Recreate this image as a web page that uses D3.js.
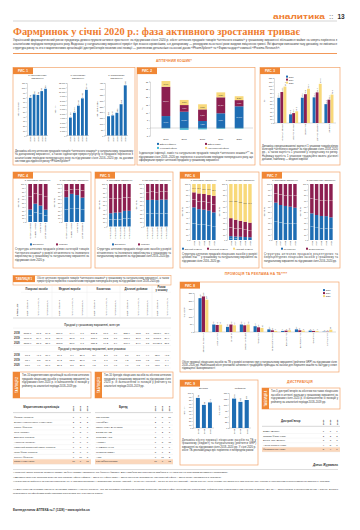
<!DOCTYPE html>
<html lang="uk"><head><meta charset="utf-8">
<script src="https://d3js.org/d3.v7.min.js"></script>
<style>
html,body{margin:0;padding:0;background:#fff;}
svg{display:block;font-family:'Liberation Sans',Arial,sans-serif;}
</style></head><body>
<svg id="page" width="360" height="530"></svg>
<script>
// ================= DATA =================
const pageSection = "аналитика";
const pageNumber = "13";
const headline = "Фармринок у січні 2020 р.: фаза активного зростання триває";
const introText = "Український фармацевтичний ринок продовжує демонструвати активне зростання: за підсумками січня 2020 р. обсяг аптечних продажів товарів «аптечного кошика» у грошовому вираженні збільшився майже на чверть порівняно з аналогічним періодом попереднього року. Водночас у натуральному вираженні приріст був значно скромнішим, а в доларовому — рекордним за останні роки завдяки зміцненню гривні. Які фактори визначили таку динаміку, як змінилася структура ринку та хто з маркетингових організацій і дистриб'юторів посилив свої позиції — розглянемо детальніше на основі даних «PharmXplorer» та «Фармстандарт» компанії «Proxima Research».";

const years5 = ["2016","2017","2018","2019","2020"];
const years3 = ["2018","2019","2020"];
const monthYears5 = ["Січень 2016","Січень 2017","Січень 2018","Січень 2019","Січень 2020"];

// Рис. 1
const fig1PanelTitles = [["У натуральному","вираженні"],["У грошовому","вираженні"],["У доларовому","вираженні"]];
const fig1AxisTitles = ["Млн упаковок","Млн грн","Млн дол. США"];
const fig1Packs = [79, 86, 85, 93, 98];
const fig1Uah = [4100, 5200, 6819, 8483, 10439];
const fig1Usd = [165, 172, 195, 268, 430];
const fig1Caption = "Динаміка обсягу аптечних продажів товарів «аптечного кошика» у натуральному, грошовому та доларовому вираженні, а також індикатори приросту/убутку їх продажів порівняно з аналогічним періодом попереднього року за підсумками січня 2016–2020 рр. за даними системи дослідження ринку «PharmXplorer»";

// Рис. 2
const fig2Legend = ["Ефект інфляції","Ефект замін","Курсовий ефект","Натуральний ефект"];
const fig2Inflation = [7.7, 10.5, 4.5, 9.5, 14.0];
const fig2Substitution = [18.9, 4.3, 7.5, 10.3, 4.0];
const fig2Currency = [-0.3, -1.2, -0.9, -0.5, -0.4];
const fig2Natural = [3.7, 3.3, 3.3, 3.2, 2.5];
const fig2Ticks = [-5, 0, 5, 10, 15, 20, 25, 30];
const fig2Caption = "Індикатори інфляції, замін та натуральних продажів товарів «аптечного кошика»** за підсумками січня 2016–2020 рр. порівняно з аналогічним періодом попереднього року, що сформували приріст аптечних продажів у грошовому вираженні";

// Рис. 3
const fig3Categories = ["Лікарські засоби","Медичні вироби","Косметика","Дієтичні добавки","Загалом"];
const fig3Y2018 = [67.2, 23.1, 67.5, 68.4, 50.3];
const fig3Y2019 = [82.6, 26.4, 76.8, 81.7, 62.2];
const fig3Y2020 = [97.1, 31.2, 91.3, 104.5, 75.8];
const fig3Caption = "Динаміка середньозваженої вартості 1 упаковки товарів різних категорій «аптечного кошика» за підсумками січня 2018–2020 рр., а також вартість 1 упаковки у середньому по ринку. Найвищу вартість 1 упаковки традиційно мають дієтичні добавки, найнижчу — медичні вироби";

// Рис. 4
const originLegend = ["Вітчизняні","Іноземні"];
const fig4Categories = ["Лікарські засоби","Медичні вироби","Косметика","Дієтичні добавки"];
const fig4DomesticUah = [33.0, 48.2, 43.1, 32.4];
const fig4ForeignUah = [67.0, 51.8, 56.9, 67.6];
const fig4DomesticPacks = [65.3, 74.1, 70.8, 64.2];
const fig4ForeignPacks = [34.7, 25.9, 29.2, 35.8];
const fig4Caption = "Структура аптечних продажів різних категорій товарів «аптечного кошика» у розрізі вітчизняного та іноземного виробництва у грошовому та натуральному вираженні за підсумками січня 2020 р.";

// Рис. 5
const fig5DomesticUah = [31.2, 32.6, 33.1, 36.8, 37.0];
const fig5ForeignUah = [68.8, 67.4, 66.9, 63.2, 63.0];
const fig5DomesticPacks = [62.4, 62.9, 62.1, 63.5, 63.2];
const fig5ForeignPacks = [37.6, 37.1, 37.9, 36.5, 36.8];
const fig5Caption = "Структура аптечних продажів лікарських засобів у розрізі вітчизняного та іноземного виробництва у грошовому та натуральному вираженні за підсумками січня 2016–2020 рр.";

// Рис. 6
const fig6Legend = ["Високий сегмент","Середній сегмент","Низький сегмент"];
const fig6HighUah = [58.3, 55.1, 54.2, 52.4, 49.3];
const fig6MidUah = [26.8, 28.0, 28.1, 27.9, 29.6];
const fig6LowUah = [14.9, 16.9, 17.7, 19.7, 21.1];
const fig6HighPacks = [6.9, 6.2, 5.8, 5.3, 4.9];
const fig6MidPacks = [32.1, 30.0, 28.4, 27.1, 26.0];
const fig6LowPacks = [61.0, 63.8, 65.8, 67.6, 69.1];
const fig6Caption = "Структура аптечних продажів лікарських засобів у розрізі цінових ніш*** у грошовому та натуральному вираженні за підсумками січня 2016–2020 рр.";

// Рис. 7
const fig7Legend = ["Рецептурні","Безрецептурні"];
const fig7RxUah = [66.7, 62.5, 60.8, 59.5, 57.7];
const fig7OtcUah = [33.3, 37.5, 39.2, 40.5, 42.3];
const fig7RxPacks = [47.6, 44.6, 42.9, 42.6, 40.5];
const fig7OtcPacks = [52.4, 55.4, 57.1, 57.4, 59.5];
const fig7Caption = "Структура аптечних продажів рецептурних та безрецептурних лікарських засобів у грошовому та натуральному вираженні за підсумками січня 2016–2020 рр.";

const panelTitles = ["У грошовому вираженні","У натуральному вираженні"];

// Рис. 8
const fig8Categories = ["Засоби від застуди","Анальгетики","Вітаміни","Засоби для ШКТ","Пробіотики","Гепатопротектори","Кардіологічні","Дерматологічні","Седативні","Антисептики"];
const fig8Y2018 = [217, 48, 33, 48, 37, 17, 7, 17, 9, 2];
const fig8Y2019 = [228, 45, 48, 43, 30, 11, 9, 11, 7, 2];
const fig8Y2020 = [207, 47, 43, 48, 26, 7, 11, 9, 7, 15];
const fig8Caption = "Обсяг промоції лікарських засобів на ТБ у розрізі основних груп у натуральному вираженні (рейтинги GRP) за підсумками січня 2018–2020 рр. Найбільший обсяг рекламної активності традиційно припадає на засоби для лікування кашлю та застуди у сезон підвищеної захворюваності";

// Рис. 9
const fig9Titles = ["Бюджет","Рейтинги"];
const fig9AxisTitles = ["Млн грн","Тис. GRP"];
const fig9Budget = [86, 66, 73];
const fig9Grp = [126, 112, 120];
const fig9Caption = "Динаміка обсягу промоції лікарських засобів на ТБ у грошовому (бюджет) та натуральному (рейтинги GRP) вираженні за підсумками січня 2018–2020 рр. У січні 2020 р. обсяг ТБ-реклами дещо зріс порівняно з попереднім роком";

// Таблиця 1
const t1Title = "Обсяг аптечних продажів товарів «аптечного кошика» у грошовому та натуральному вираженні, а також приріст/убуток порівняно з аналогічним періодом попереднього року за підсумками січня 2018–2020 рр.";
const t1Groups = ["Лікарські засоби","Медичні вироби","Косметика","Дієтичні добавки","Разом у кошику"];
const t1SubCols = ["Обсяг продажів","Приріст/убуток, %","Питома вага, %"];
const t1Sections = ["Продажі у грошовому вираженні, млн грн","Продажі у натуральному вираженні, млн упаковок"];
const t1Years = ["2018","2019","2020"];
const t1UahRows = [
 ["5783,1","17,5","84,8","517,7","14,4","7,6","265,2","10,7","3,9","252,9","15,5","3,7","6818,9","16,9"],
 ["7196,8","24,4","84,8","654,1","26,3","7,7","313,6","18,2","3,7","318,6","26,0","3,8","8483,1","24,4"],
 ["8873,9","23,3","85,0","808,8","23,7","7,7","358,2","14,2","3,4","397,9","24,9","3,8","10438,8","23,1"]];
const t1PackRows = [
 ["60,3","–1,7","70,9","17,1","0,4","20,1","3,9","2,7","4,6","3,7","5,6","4,4","85,0","–0,8"],
 ["65,4","8,5","70,3","19,2","12,3","20,6","4,2","7,7","4,5","4,2","13,5","4,5","93,0","9,4"],
 ["68,6","4,9","70,0","20,3","5,7","20,7","4,5","7,1","4,6","4,6","9,5","4,7","98,0","5,4"]];

// Таблиці 2–4
const rankYears = ["2020","2019","2018"];
const t2Text = "Топ-10 маркетингових організацій за обсягом аптечних продажів лікарських засобів у грошовому вираженні за підсумками січня 2020 р. із зазначенням їх позицій у рейтингу за аналогічні періоди 2018–2019 рр.";
const t2Names = ["Фармак (Україна)","Берлін-Хемі/Менаріні (Німеччина)","Sanofi (Франція)","Teva (Ізраїль)","Дарниця (Україна)","Артеріум (Україна)","Київський вітамінний завод (Україна)","Юрія-Фарм (Україна)","Servier (Франція)","Stada (Німеччина)"];
const t2R2020 = [1,2,3,4,5,6,7,8,9,10];
const t2R2019 = [1,2,3,5,4,6,8,9,10,7];
const t2R2018 = [1,2,3,4,5,6,7,9,8,11];
const t3Text = "Топ-10 брендів лікарських засобів за обсягом аптечних продажів у грошовому вираженні за підсумками січня 2020 р. із зазначенням їх позицій у рейтингу за аналогічні періоди 2018–2019 рр.";
const t3Names = ["СИНУПРЕТ","НУРОФЕН","ЦИТРАМОН-ДАРНИЦЯ","ЕССЕНЦІАЛЕ","ТРОМБО АСС","АМІЗОН","КАРДІОМАГНІЛ","ГРОПРИНОЗИН","АЦЦ","РИНОФЛУІМУЦИЛ"];
const t3R2020 = [1,2,3,4,5,6,7,8,9,10];
const t3R2019 = [5,1,6,2,4,8,3,7,11,9];
const t3R2018 = [10,1,9,3,4,48,6,2,2,12];
const t4Text = "Топ-5 дистриб'юторів за обсягом поставок лікарських засобів в аптечні заклади у грошовому вираженні за підсумками січня 2020 р. із зазначенням їх позицій у рейтингу за аналогічні періоди 2018–2019 рр.";
const t4Names = ["БаДМ (Дніпро)","Оптима-Фарм (Київ)","Вента. Лтд (Дніпро)","Альба Україна (Київ)","Фармпланета (Київ)"];
const t4R2020 = [1,2,3,4,5];
const t4R2019 = [1,2,3,5,4];
const t4R2018 = [1,2,3,7,6];

const sectionTitles = ["АПТЕЧНИЙ КОШИК*","ПРОМОЦІЯ ТА РЕКЛАМА НА ТБ****","ДИСТРИБУЦІЯ"];
const author = "Денис Журавель";
const footnotes = [
 "*Аптечний кошик включає лікарські засоби, медичні вироби, косметику та дієтичні добавки. Дані наведено без урахування продажів в АР Крим та на тимчасово окупованих територіях.",
 "**Динаміка аптечних продажів включає три складові: ефект інфляції – зміна цін; ефект замін – зміна структури споживання; натуральний ефект – зміна обсягу споживання в упаковках.",
 "***Ранжування здійснено за рівнем роздрібних цін 1 упаковки препарату у відповідному періоді: низький – до 50 грн; середній – від 50 до 100 грн; високий – понад 100 грн. Межі цінових ніш визначено для кожного року окремо з урахуванням середньозваженої вартості 1 упаковки.",
 "****Дані щодо ТБ-реклами наведено за даними компанії «Нільсен Україна». Під ТБ-рекламою розуміється реклама лікарських засобів в ефірі національних телеканалів. Рейтинги GRP розраховано для цільової аудиторії «Всі 18+», міста України з населенням 50 тис. і більше. Бюджет розраховано за офіційними прайс-листами телеканалів без урахування знижок."
];
const footer = "Еженедельник АПТЕКА №7 (1228) • www.apteka.ua";

// ================= DRAWING =================
const svg = d3.select("#page");
const C = {orange:"#ef7d2f", border:"#f2a46a", tag:"#f08735", blue:"#1e6db3", crimson:"#8c1f50",
  yellow:"#f8d97a", teal:"#46b9d6", text:"#333", axis:"#8a8a8a", light:"#e3e3e3", hl:"#fbd7bb"};
const loc = d3.formatLocale({decimal:",", thousands:" ", grouping:[3], currency:["",""]});
const f0 = loc.format(",.0f"), f1 = loc.format(".1f");

svg.append("rect").attr("width",360).attr("height",530).attr("fill","#fff");

function txt(g, x, y, s, o={}) {
  const t = g.append("text").text(s).attr("font-size", o.fs||2.6).attr("fill", o.fill||C.text);
  if (o.rot) t.attr("transform",`translate(${x},${y}) rotate(${o.rot})`); else t.attr("x",x).attr("y",y);
  if (o.anchor) t.attr("text-anchor",o.anchor);
  if (o.weight) t.attr("font-weight",o.weight);
  if (o.style) t.attr("font-style",o.style);
  if (o.family) t.attr("font-family",o.family);
  if (o.len) t.attr("textLength",o.len).attr("lengthAdjust","spacingAndGlyphs");
  if (o.ls) t.attr("letter-spacing",o.ls);
  return t;
}
function para(g, text, x, y, w, lh, fs, o={}) {
  const probe = g.append("text").attr("font-size",fs).attr("font-style",o.style||null).attr("font-weight",o.weight||null);
  const words = text.split(/\s+/); const lines=[]; let cur=[];
  words.forEach(wd=>{ probe.text([...cur,wd].join(" "));
    if (cur.length && probe.node().getComputedTextLength()>w){ lines.push(cur.join(" ")); cur=[wd]; } else cur.push(wd); });
  if (cur.length) lines.push(cur.join(" "));
  probe.remove();
  lines.forEach((l,i)=>{ const t = txt(g, x, y+i*lh, l, {fs, style:o.style, weight:o.weight, fill:o.fill});
    if (i<lines.length-1) t.attr("textLength",w).attr("lengthAdjust","spacing"); });
  return lines.length;
}
function figBox(x,y,w,h,label){
  svg.append("rect").attr("x",x).attr("y",y).attr("width",w).attr("height",h).attr("fill","#fff").attr("stroke",C.border).attr("stroke-width",0.7);
  svg.append("rect").attr("x",x).attr("y",y).attr("width",20).attr("height",6.6).attr("fill",C.tag);
  txt(svg, x+10, y+4.7, label, {fs:3.1, fill:"#fff", weight:"bold", anchor:"middle"});
}
function tabBox(x,y,w,h,label,text){
  svg.append("rect").attr("x",x).attr("y",y).attr("width",w).attr("height",h).attr("fill","#fff").attr("stroke",C.border).attr("stroke-width",0.7);
  svg.append("rect").attr("x",x).attr("y",y).attr("width",7).attr("height",h).attr("fill",C.tag);
  txt(svg, x+4.6, y+h/2, label, {fs:2.8, fill:"#fff", weight:"bold", anchor:"middle", rot:-90});
  para(svg, text, x+9, y+4.2, w-11, 3.6, 2.6);
}
function styleAxis(a, fs){
  a.attr("font-size",fs).attr("font-family",null);
  a.select(".domain").attr("stroke",C.axis).attr("stroke-width",0.3);
  a.selectAll(".tick line").attr("stroke",C.axis).attr("stroke-width",0.3);
  a.selectAll(".tick text").attr("fill",C.text);
}
function yAxis(g, x, y, ticks, fmt, fs=2.1){
  const a = g.append("g").attr("transform",`translate(${x},0)`)
    .call(d3.axisLeft(y).tickValues(ticks).tickSize(1).tickPadding(0.7).tickFormat(fmt));
  styleAxis(a, fs); return a;
}
function legend(g, items, colors, xs, y, fs=2.3){
  items.forEach((it,i)=>{ g.append("rect").attr("x",xs[i]).attr("y",y-1.9).attr("width",2).attr("height",2).attr("fill",colors[i]);
    txt(g, xs[i]+2.7, y, it, {fs}); });
}
function xLabels(g, x, cats, yBase, fs){
  g.append("g").selectAll("text").data(cats).join("text")
    .attr("transform",d=>`translate(${x(d)+x.bandwidth()/2+fs*0.35},${yBase}) rotate(-90)`)
    .attr("text-anchor","end").attr("font-size",fs).attr("fill",C.text).text(d=>d);
}
function simpleBars(o){
  const g = svg.append("g");
  const x = d3.scaleBand().domain(o.cats).range([o.x0+0.8,o.x1]).padding(o.pad ?? 0.3);
  const y = d3.scaleLinear().domain([0,o.max]).range([o.y1,o.y0]);
  yAxis(g, o.x0, y, d3.range(0,o.max+1e-9,o.step), f0, o.tfs||2.1);
  g.append("line").attr("x1",o.x0).attr("x2",o.x1).attr("y1",o.y1).attr("y2",o.y1).attr("stroke",C.axis).attr("stroke-width",0.3);
  g.append("g").selectAll("rect").data(o.values).join("rect")
    .attr("x",(d,i)=>x(o.cats[i])).attr("y",d=>y(d)).attr("width",x.bandwidth()).attr("height",d=>o.y1-y(d)).attr("fill",C.blue);
  g.append("g").selectAll("text").data(o.values).join("text")
    .attr("transform",(d,i)=>`translate(${x(o.cats[i])+x.bandwidth()/2+0.7},${y(d)-0.7}) rotate(-90)`)
    .attr("font-size",o.vfs||2.1).attr("fill",C.text).text(d=>f0(d));
  xLabels(g, x, o.cats, o.y1+0.9, o.xfs||2.3);
  o.title.forEach((t,i)=>txt(g,(o.x0+o.x1)/2,o.ty+i*3,t,{fs:2.5,anchor:"middle"}));
  txt(g, o.ytx, (o.y0+o.y1)/2, o.yTitle, {fs:2.3, anchor:"middle", rot:-90});
}
function stackPanel(o){
  const g = svg.append("g");
  const keys = o.series.map((s,k)=>"k"+k);
  const rows = o.cats.map((c,i)=>{ const r={cat:c}; o.series.forEach((s,k)=>r["k"+k]=s[i]); return r; });
  const st = d3.stack().keys(keys)(rows);
  const x = d3.scaleBand().domain(o.cats).range([o.x0+0.8,o.x1]).padding(o.pad ?? 0.28);
  const y = d3.scaleLinear().domain([0,100]).range([o.y1,o.y0]);
  yAxis(g, o.x0, y, d3.range(0,101,10), d=>d, 2.0);
  st.forEach((layer,k)=>{
    g.append("g").selectAll("rect").data(layer).join("rect")
      .attr("x",d=>x(d.data.cat)).attr("y",d=>y(d[1])).attr("width",x.bandwidth())
      .attr("height",d=>y(d[0])-y(d[1])).attr("fill",o.colors[k]);
    g.append("g").selectAll("text").data(layer.filter(d=>y(d[0])-y(d[1])>3.4)).join("text")
      .attr("x",d=>x(d.data.cat)+x.bandwidth()/2).attr("y",d=>(y(d[0])+y(d[1]))/2+0.6)
      .attr("text-anchor","middle").attr("font-size",o.vfs||1.7)
      .attr("fill",o.labelColors?o.labelColors[k]:"#fff").text(d=>f1(d.data["k"+k]));
  });
  xLabels(g, x, o.cats, o.y1+0.8, o.xfs||2.1);
  txt(g,(o.x0+o.x1)/2,o.ty,o.title,{fs:2.3,anchor:"middle"});
  txt(g,o.ytx,(o.y0+o.y1)/2,"Частка, %",{fs:2.1,anchor:"middle",rot:-90});
}
function groupedBars(o){
  const g = svg.append("g");
  const x0 = d3.scaleBand().domain(o.cats).range([o.x0+0.8,o.x1]).padding(o.pad ?? 0.2);
  const x1 = d3.scaleBand().domain(years3).range([0,x0.bandwidth()]).padding(0.06);
  const y = d3.scaleLinear().domain([0,o.max]).range([o.y1,o.y0]);
  const cols = [C.blue, C.crimson, C.yellow];
  yAxis(g, o.x0, y, d3.range(0,o.max+1e-9,o.step), f0, 2.1);
  g.append("line").attr("x1",o.x0).attr("x2",o.x1).attr("y1",o.y1).attr("y2",o.y1).attr("stroke",C.axis).attr("stroke-width",0.3);
  o.series.forEach((s,k)=>{
    g.append("g").selectAll("rect").data(s).join("rect")
      .attr("x",(d,i)=>x0(o.cats[i])+x1(years3[k])).attr("y",d=>y(d)).attr("width",x1.bandwidth())
      .attr("height",d=>o.y1-y(d)).attr("fill",cols[k]);
    g.append("g").selectAll("text").data(s).join("text")
      .attr("transform",(d,i)=>`translate(${x0(o.cats[i])+x1(years3[k])+x1.bandwidth()/2+0.65},${y(d)-0.6}) rotate(-90)`)
      .attr("font-size",o.vfs||1.9).attr("fill",C.text).text(d=>o.vfmt(d));
  });
  xLabels(g, x0, o.cats, o.y1+0.9, o.xfs||2.2);
  txt(g, o.ytx, (o.y0+o.y1)/2, o.yTitle, {fs:2.3, anchor:"middle", rot:-90});
  legend(g, years3, cols, [o.lx,o.lx,o.lx], 0, 2.2);
  g.selectAll("rect").filter(function(){return +this.getAttribute("y")===-1.9;}).remove();
  g.selectAll("text").filter(function(){return this.getAttribute("y")==="0";}).remove();
  years3.forEach((yr,k)=>{ g.append("rect").attr("x",o.lx).attr("y",o.ly+k*3-1.9).attr("width",2).attr("height",2).attr("fill",cols[k]);
    txt(g, o.lx+2.7, o.ly+k*3, yr, {fs:2.2}); });
}

// ---------- Header ----------
txt(svg, 273, 19, pageSection, {fs:7, fill:C.orange, weight:"bold", len:52});
txt(svg, 329, 19, "::", {fs:6.5, fill:"#999", weight:"bold"});
txt(svg, 337.5, 19, pageNumber, {fs:6.5, fill:"#333", weight:"bold"});
svg.append("line").attr("x1",13).attr("x2",337).attr("y1",21).attr("y2",21).attr("stroke","#a8a8a8").attr("stroke-width",0.5);
txt(svg, 13, 35, headline, {fs:10, fill:C.orange, weight:"bold", family:"'Liberation Serif','DejaVu Serif',serif", len:287});
para(svg, introText, 13, 41, 324, 4, 2.9);
svg.append("line").attr("x1",13).attr("x2",337).attr("y1",53.5).attr("y2",53.5).attr("stroke",C.orange).attr("stroke-width",0.8);
txt(svg, 174, 61.6, sectionTitles[0], {fs:3.3, fill:C.orange, weight:"bold", anchor:"middle", ls:0.2});

// ---------- Рис. 1 ----------
figBox(13, 67.5, 122, 97.5, "РИС. 1");
simpleBars({x0:27,x1:48,y0:83,y1:135.5,cats:years5,values:fig1Packs,max:110,step:10,title:fig1PanelTitles[0],ty:76.3,yTitle:fig1AxisTitles[0],ytx:18.8});
simpleBars({x0:67,x1:89,y0:83,y1:135.5,cats:years5,values:fig1Uah,max:12000,step:1000,title:fig1PanelTitles[1],ty:76.3,yTitle:fig1AxisTitles[1],ytx:55.8,vfs:1.9});
simpleBars({x0:105,x1:128,y0:83,y1:135.5,cats:years5,values:fig1Usd,max:450,step:50,title:fig1PanelTitles[2],ty:76.3,yTitle:fig1AxisTitles[2],ytx:97.8});
para(svg, fig1Caption, 15, 151.5, 118, 3.5, 2.7);

// ---------- Рис. 2 ----------
figBox(137, 67.5, 118, 97.5, "РИС. 2");
(function(){
  const g = svg.append("g");
  const rows = years5.map((yr,i)=>({yr, cur:fig2Currency[i], inf:fig2Inflation[i], sub:fig2Substitution[i], nat:fig2Natural[i]}));
  const keys = ["cur","inf","sub","nat"];
  const colors = {cur:C.teal, inf:C.blue, sub:C.crimson, nat:C.yellow};
  const st = d3.stack().keys(keys).offset(d3.stackOffsetDiverging)(rows);
  const x = d3.scaleBand().domain(years5).range([152,253]).padding(0.52);
  const y = d3.scaleLinear().domain([-5,30]).range([135.75,81.5]);
  yAxis(g, 150, y, fig2Ticks, d=>d, 2.2);
  st.forEach(layer=>{
    g.append("g").selectAll("rect").data(layer).join("rect")
      .attr("x",d=>x(d.data.yr)).attr("y",d=>y(Math.max(d[0],d[1]))).attr("width",x.bandwidth())
      .attr("height",d=>Math.abs(y(d[0])-y(d[1]))).attr("fill",colors[layer.key]);
    g.append("g").selectAll("text").data(layer.filter(d=>Math.abs(y(d[0])-y(d[1]))>3.4)).join("text")
      .attr("x",d=>x(d.data.yr)+x.bandwidth()/2).attr("y",d=>(y(d[0])+y(d[1]))/2+0.7)
      .attr("text-anchor","middle").attr("font-size",2.0).attr("fill",layer.key==="nat"?C.text:"#fff")
      .text(d=>f1(d.data[layer.key])+"%");
  });
  g.append("line").attr("x1",150).attr("x2",253).attr("y1",y(0)).attr("y2",y(0)).attr("stroke",C.axis).attr("stroke-width",0.3);
  g.append("g").selectAll("text").data(years5).join("text").attr("x",d=>x(d)+x.bandwidth()/2).attr("y",140.3)
    .attr("text-anchor","middle").attr("font-size",2.4).attr("fill",C.text).text(d=>d);
  txt(g, 142.5, (81.5+135.75)/2, "%", {fs:2.4, anchor:"middle", rot:-90});
  legend(g, [fig2Legend[0],fig2Legend[1]], [C.blue,C.crimson], [157,205], 144.8, 2.3);
  legend(g, [fig2Legend[2],fig2Legend[3]], [C.teal,C.yellow], [157,205], 148.8, 2.3);
})();
para(svg, fig2Caption, 139, 154, 114, 3.6, 2.7);

// ---------- Рис. 3 ----------
figBox(260, 67.5, 80, 97.5, "РИС. 3");
groupedBars({x0:274,x1:336,y0:78,y1:123,cats:fig3Categories,series:[fig3Y2018,fig3Y2019,fig3Y2020],max:120,step:10,
  yTitle:"Грн",ytx:264.5,vfmt:f1,lx:286,ly:77.5});
para(svg, fig3Caption, 262, 146.5, 76, 3.35, 2.6);

// ---------- Рис. 4 ----------
figBox(13, 172, 78, 96, "РИС. 4");
stackPanel({x0:26,x1:49,y0:184,y1:222,cats:fig4Categories,series:[fig4DomesticUah,fig4ForeignUah],colors:[C.blue,C.crimson],title:panelTitles[0],ty:180.6,ytx:18.8});
stackPanel({x0:62,x1:86,y0:184,y1:222,cats:fig4Categories,series:[fig4DomesticPacks,fig4ForeignPacks],colors:[C.blue,C.crimson],title:panelTitles[1],ty:180.6,ytx:54.8});
legend(svg, originLegend, [C.blue,C.crimson], [30,56], 245.3, 2.3);
para(svg, fig4Caption, 15, 250, 74, 3.5, 2.6);

// ---------- Рис. 5 ----------
figBox(95, 172, 78, 96, "РИС. 5");
stackPanel({x0:107,x1:132,y0:184,y1:226.5,cats:monthYears5,series:[fig5DomesticUah,fig5ForeignUah],colors:[C.blue,C.crimson],title:panelTitles[0],ty:180.6,ytx:99.8,xfs:2.0});
stackPanel({x0:144,x1:169,y0:184,y1:226.5,cats:monthYears5,series:[fig5DomesticPacks,fig5ForeignPacks],colors:[C.blue,C.crimson],title:panelTitles[1],ty:180.6,ytx:136.8,xfs:2.0});
legend(svg, originLegend, [C.blue,C.crimson], [112,138], 245.3, 2.3);
para(svg, fig5Caption, 97, 250, 74, 3.5, 2.6);

// ---------- Рис. 6 ----------
figBox(180, 172, 79, 96, "РИС. 6");
stackPanel({x0:190,x1:217,y0:184,y1:240,cats:years5,series:[fig6HighUah,fig6MidUah,fig6LowUah],colors:[C.blue,C.crimson,C.yellow],labelColors:["#fff","#fff",C.text],title:panelTitles[0],ty:180.6,ytx:183.3});
stackPanel({x0:227,x1:253,y0:184,y1:240,cats:years5,series:[fig6HighPacks,fig6MidPacks,fig6LowPacks],colors:[C.blue,C.crimson,C.yellow],labelColors:["#fff","#fff",C.text],title:panelTitles[1],ty:180.6,ytx:220.3});
legend(svg, fig6Legend, [C.blue,C.crimson,C.yellow], [182,207,233], 249.6, 2.2);
para(svg, fig6Caption, 182, 254.5, 75, 3.5, 2.6);

// ---------- Рис. 7 ----------
figBox(262, 172, 78, 96, "РИС. 7");
stackPanel({x0:272,x1:298,y0:184,y1:240,cats:years5,series:[fig7RxUah,fig7OtcUah],colors:[C.blue,C.crimson],title:panelTitles[0],ty:180.6,ytx:265.3});
stackPanel({x0:308,x1:334,y0:184,y1:240,cats:years5,series:[fig7RxPacks,fig7OtcPacks],colors:[C.blue,C.crimson],title:panelTitles[1],ty:180.6,ytx:301.3});
legend(svg, fig7Legend, [C.blue,C.crimson], [281,306], 249.6, 2.3);
para(svg, fig7Caption, 264, 254.5, 74, 3.5, 2.6);

// ---------- Таблиця 1 ----------
(function(){
  const g = svg.append("g");
  g.append("rect").attr("x",13).attr("y",275.5).attr("width",158).attr("height",9.5).attr("fill","#fff").attr("stroke",C.border).attr("stroke-width",0.6);
  g.append("rect").attr("x",13).attr("y",275.5).attr("width",22).attr("height",6.6).attr("fill",C.tag);
  txt(g, 24, 280.2, "ТАБЛИЦЯ 1", {fs:2.9, fill:"#fff", weight:"bold", anchor:"middle"});
  para(g, t1Title, 37, 278.6, 132, 3.5, 2.55);
  const gb = [21,52,87,120,152,171];
  const ratios3 = [0.42,0.3,0.28], ratios2 = [0.56,0.44];
  const colCenters = [];
  t1Groups.forEach((grp,i)=>{
    const a = gb[i], b = gb[i+1], r = i<4?ratios3:ratios2; let s = a;
    r.forEach(p=>{ colCenters.push(s+(b-a)*p/2); s += (b-a)*p; });
    if (i<4) txt(g,(a+b)/2,289.5,grp,{fs:2.7,anchor:"middle",weight:"bold"});
    else { txt(g,(a+b)/2,288,"Разом",{fs:2.7,anchor:"middle",weight:"bold"}); txt(g,(a+b)/2,291,"у кошику",{fs:2.7,anchor:"middle",weight:"bold"}); }
    if (i>0) g.append("line").attr("x1",a).attr("x2",a).attr("y1",286).attr("y2",317).attr("stroke",C.light).attr("stroke-width",0.3);
  });
  g.append("line").attr("x1",21).attr("x2",171).attr("y1",292.3).attr("y2",292.3).attr("stroke",C.light).attr("stroke-width",0.3);
  let c = 0;
  t1Groups.forEach((grp,i)=>{ (i<4?t1SubCols:t1SubCols.slice(0,2)).forEach(sc=>{
    txt(g, colCenters[c]+0.8, 316, sc, {fs:2.2, rot:-90}); c++; }); });
  txt(g, 17.8, 316, "Січень, рік", {fs:2.3, rot:-90, weight:"bold"});
  g.append("line").attr("x1",13).attr("x2",171).attr("y1",318).attr("y2",318).attr("stroke","#999").attr("stroke-width",0.4);
  const sections = [[t1Sections[0], t1UahRows, 326.3, 333.6], [t1Sections[1], t1PackRows, 349.8, 356.2]];
  sections.forEach(([title, rows, ty, ry])=>{
    txt(g, 92, ty, title, {fs:2.7, anchor:"middle", weight:"bold", fill:"#555"});
    g.append("line").attr("x1",13).attr("x2",171).attr("y1",ty+1.8).attr("y2",ty+1.8).attr("stroke",C.light).attr("stroke-width",0.4);
    rows.forEach((row,ri)=>{
      const yy = ry + ri*5;
      txt(g, 14, yy, t1Years[ri], {fs:2.6, weight:"bold"});
      row.forEach((v,ci)=>txt(g, colCenters[ci], yy, v, {fs:2.5, anchor:"middle"}));
      g.append("line").attr("x1",13).attr("x2",171).attr("y1",yy+1.8).attr("y2",yy+1.8).attr("stroke",C.light).attr("stroke-width",0.3);
    });
  });
})();

// ---------- Таблиці 2–4 ----------
function rankTable(x0, x1, yHead, title, names, r1, r2, r3, colX, rowStep, fs){
  const g = svg.append("g");
  txt(g, (x0+colX[0]-4)/2, yHead, title, {fs:2.8, anchor:"middle", weight:"bold"});
  rankYears.forEach((yr,k)=>txt(g, colX[k]+0.9, yHead+3, yr, {fs:2.4, weight:"bold", rot:-90}));
  g.append("line").attr("x1",x0).attr("x2",x1).attr("y1",yHead+4.3).attr("y2",yHead+4.3).attr("stroke","#999").attr("stroke-width",0.4);
  names.forEach((nm,i)=>{
    const yy = yHead + 10 + i*rowStep;
    if (i===names.length-1) g.append("rect").attr("x",x0).attr("y",yy-3.1).attr("width",x1-x0).attr("height",rowStep).attr("fill",C.hl);
    txt(g, x0+1, yy, nm, {fs});
    [r1[i],r2[i],r3[i]].forEach((v,k)=>txt(g, colX[k], yy, v, {fs, anchor:"middle"}));
    g.append("line").attr("x1",x0).attr("x2",x1).attr("y1",yy+rowStep-3.1).attr("y2",yy+rowStep-3.1).attr("stroke",C.light).attr("stroke-width",0.3);
  });
}
tabBox(13, 372, 78, 26, "ТАБЛИЦЯ 2", t2Text);
tabBox(95, 372, 78, 26, "ТАБЛИЦЯ 3", t3Text);
rankTable(13, 91, 408.3, "Маркетингова організація", t2Names, t2R2020, t2R2019, t2R2018, [73.5,80.5,87.5], 4.9, 2.45);
rankTable(95, 173, 408.3, "Бренд", t3Names, t3R2020, t3R2019, t3R2018, [155.5,162.5,169.5], 4.9, 2.45);

// ---------- Рис. 8 ----------
txt(svg, 256, 275.3, sectionTitles[1], {fs:3.3, fill:C.orange, weight:"bold", anchor:"middle", ls:0.2});
figBox(180, 282, 159, 90, "РИС. 8");
groupedBars({x0:194,x1:336,y0:293,y1:332,cats:fig8Categories,series:[fig8Y2018,fig8Y2019,fig8Y2020],max:250,step:50,
  yTitle:"Тис. GRP",ytx:184.5,vfmt:f0,lx:323,ly:291,pad:0.25,xfs:2.2,vfs:1.9});
para(svg, fig8Caption, 182, 362.5, 155, 3.3, 2.6);

// ---------- Рис. 9 ----------
figBox(180, 380, 78, 85, "РИС. 9");
simpleBars({x0:193,x1:214,y0:393,y1:428,cats:years3,values:fig9Budget,max:100,step:10,title:[fig9Titles[0]],ty:389,yTitle:fig9AxisTitles[0],ytx:184.5,pad:0.35});
simpleBars({x0:229,x1:251,y0:393,y1:428,cats:years3,values:fig9Grp,max:150,step:25,title:[fig9Titles[1]],ty:389,yTitle:fig9AxisTitles[1],ytx:219.8,pad:0.35});
para(svg, fig9Caption, 182, 440.5, 74, 3.6, 2.6);

// ---------- Дистрибуція ----------
txt(svg, 300, 383.2, sectionTitles[2], {fs:3.3, fill:C.orange, weight:"bold", anchor:"middle", ls:0.2});
tabBox(262, 388, 78, 21, "ТАБЛИЦЯ 4", t4Text);
rankTable(262, 340, 422, "Дистриб'ютор", t4Names, t4R2020, t4R2019, t4R2018, [323.5,330.5,337], 4.6, 2.45);

// ---------- Footer ----------
txt(svg, 338, 466, author, {fs:3, anchor:"end", weight:"bold", style:"italic"});
svg.append("line").attr("x1",13).attr("x2",338).attr("y1",469.5).attr("y2",469.5).attr("stroke","#a8a8a8").attr("stroke-width",0.4);
para(svg, footnotes[0], 13, 472.6, 325, 3.4, 2.45, {style:"italic"});
para(svg, footnotes[1], 13, 478, 325, 3.4, 2.45);
para(svg, footnotes[2], 13, 482, 325, 3.4, 2.45);
para(svg, footnotes[3], 13, 490.2, 325, 3.5, 2.45);
txt(svg, 13, 511, footer, {fs:3.1, weight:"bold"});
</script>
</body></html>
